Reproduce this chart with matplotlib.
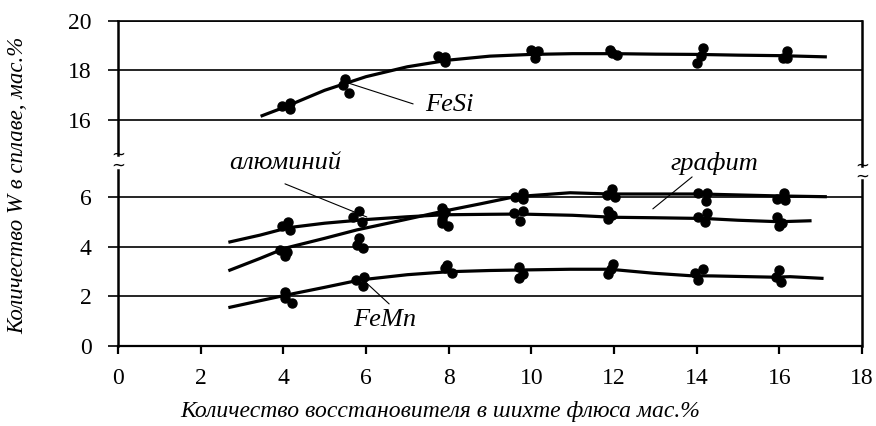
import matplotlib.pyplot as plt

plt.rcParams['font.family'] = ['Liberation Serif', 'DejaVu Serif']

# --- данные ---
# FeSi (верхняя часть)
fesi_x = [3.96, 4.15, 4.15, 5.49, 5.45, 5.6, 7.75, 7.9, 7.9, 10.0, 10.17, 10.1,
          11.9, 12.07, 11.95, 14.15, 14.1, 14.0, 16.18, 16.08, 16.19]
fesi_y = [16.57, 16.7, 16.43, 17.64, 17.41, 17.1, 18.6, 18.55, 18.35, 18.83, 18.8, 18.5,
          18.83, 18.63, 18.7, 18.9, 18.59, 18.32, 18.8, 18.49, 18.49]
fesi_cx = [3.45, 4, 5, 6, 7, 8, 9, 10, 11, 12, 13, 14, 15, 16, 17.15]
fesi_cy = [16.15, 16.5, 17.2, 17.75, 18.15, 18.42, 18.58, 18.65, 18.68, 18.68, 18.66,
           18.65, 18.62, 18.6, 18.55]

# алюминий
al_x = [3.96, 4.12, 4.16, 5.82, 5.68, 5.9, 7.87, 7.83, 7.99, 9.58, 9.79, 9.73,
        11.86, 11.95, 11.86, 14.04, 14.24, 14.2, 15.94, 16.06, 15.98]
al_y = [4.85, 5.02, 4.69, 5.47, 5.2, 5.02, 5.29, 4.96, 4.85, 5.36, 5.47, 5.06,
        5.47, 5.29, 5.12, 5.2, 5.36, 5.02, 5.2, 4.98, 4.85]
al_cx = [2.67, 3.44, 4.12, 5, 6.02, 7, 7.87, 9, 9.73, 11, 11.98, 13, 14.2, 15, 16.0, 16.78]
al_cy = [4.19, 4.48, 4.78, 4.96, 5.11, 5.22, 5.3, 5.32, 5.33, 5.28, 5.2, 5.18, 5.15,
         5.08, 5.02, 5.06]

# графит
gr_x = [3.92, 4.1, 4.04, 5.82, 5.78, 5.92, 7.83, 7.9, 7.83, 9.61, 9.81, 9.81,
        11.95, 11.83, 12.03, 14.04, 14.24, 14.23, 16.11, 15.95, 16.14]
gr_y = [3.88, 3.81, 3.64, 4.35, 4.08, 3.97, 5.56, 5.4, 5.1, 6.03, 6.2, 5.93,
        6.33, 6.1, 6.03, 6.2, 6.2, 5.87, 6.17, 5.93, 5.9]
gr_cx = [2.67, 3.44, 4.04, 5, 5.78, 6.9, 7.83, 8.76, 9.6, 10.94, 11.9, 13.36, 14.08,
         16.02, 17.15]
gr_cy = [3.04, 3.54, 3.95, 4.35, 4.69, 5.09, 5.43, 5.74, 6.03, 6.19, 6.14, 6.14, 6.14,
         6.06, 6.03]

# FeMn
mn_x = [4.04, 4.04, 4.2, 5.76, 5.96, 5.92, 7.97, 8.07, 7.91, 9.71, 9.79, 9.69,
        11.97, 11.92, 11.86, 14.15, 13.96, 14.04, 16.0, 15.92, 16.03]
mn_y = [2.19, 1.93, 1.75, 2.67, 2.78, 2.42, 3.27, 2.96, 3.14, 3.18, 2.91, 2.73,
        3.31, 3.1, 2.91, 3.1, 2.94, 2.67, 3.07, 2.8, 2.6]
mn_cx = [2.67, 3.44, 4.08, 5, 5.86, 7, 7.99, 9, 9.73, 10.94, 11.9, 12.95, 13.84, 14.4,
         15.86, 16.26, 17.07]
mn_cy = [1.55, 1.83, 2.06, 2.37, 2.67, 2.88, 3.0, 3.05, 3.07, 3.1, 3.1, 2.94, 2.84,
         2.83, 2.78, 2.8, 2.73]

xticks = [0, 2, 4, 6, 8, 10, 12, 14, 16, 18]
yticks_top = [16, 18, 20]
yticks_bot = [0, 2, 4, 6]

W, H = 876, 426
fig = plt.figure(figsize=(W / 100, H / 100), dpi=100)

def box(x0, y0, x1, y1):
    # пиксели -> доли фигуры (y сверху)
    return [x0 / W, 1 - y1 / H, (x1 - x0) / W, (y1 - y0) / H]

ax_t = fig.add_axes(box(118, 21, 862, 168))
ax_b = fig.add_axes(box(118, 168, 862, 346))

lw_curve = 2.3
ms = 6.5
for ax in (ax_t, ax_b):
    ax.set_xlim(0, 18)
    ax.grid(axis='y', color='black', linewidth=1.2)
    ax.set_axisbelow(True)
    ax.tick_params(axis='y', direction='out', length=7, width=1.2, pad=12, labelsize=17)
    ax.tick_params(axis='x', direction='out', length=6, width=1.6, pad=10, labelsize=17)
    for s in ('left', 'right'):
        ax.spines[s].set_linewidth(1.8)

# верх
ax_t.set_ylim(14.06, 20)
ax_t.set_yticks(yticks_top)
ax_t.set_xticks([])
ax_t.spines['bottom'].set_visible(False)
ax_t.spines['top'].set_linewidth(1.2)
ax_t.spines['left'].set_bounds(14.6, 20)
ax_t.spines['right'].set_bounds(14.14, 20)
ax_t.plot(fesi_cx, fesi_cy, color='black', lw=lw_curve, solid_capstyle='butt')
ax_t.plot(fesi_x, fesi_y, 'o', color='black', ms=ms)

# низ
ax_b.set_ylim(0, 7.19)
ax_b.set_yticks(yticks_bot)
ax_b.set_xticks(xticks)
ax_b.spines['top'].set_visible(False)
ax_b.spines['bottom'].set_linewidth(1.6)
ax_b.spines['left'].set_bounds(0, 7.1)
ax_b.spines['right'].set_bounds(0, 6.7)
for cx, cy, px, py in [(al_cx, al_cy, al_x, al_y), (gr_cx, gr_cy, gr_x, gr_y),
                       (mn_cx, mn_cy, mn_x, mn_y)]:
    ax_b.plot(cx, cy, color='black', lw=lw_curve, solid_capstyle='butt')
    ax_b.plot(px, py, 'o', color='black', ms=ms)

# подписи кривых
lab = dict(fontsize=19, style='italic')
arr = dict(arrowstyle='-', color='black', lw=0.8, shrinkA=0, shrinkB=0)
ax_t.annotate('', xy=(5.56, 17.5), xytext=(7.14, 16.65), arrowprops=arr)
ax_t.text(7.42, 16.6, 'FeSi', ha='left', va='center', **lab)
ax_b.annotate('', xy=(6.02, 5.21), xytext=(4.04, 6.55), arrowprops=arr)
ax_b.text(4.04, 7.39, 'алюминий', ha='center', va='center', clip_on=False, **lab)
ax_b.annotate('', xy=(12.94, 5.54), xytext=(13.89, 6.83), arrowprops=arr)
ax_b.text(14.42, 7.39, 'графит', ha='center', va='center', clip_on=False, **lab)
ax_b.annotate('', xy=(5.93, 2.67), xytext=(6.56, 1.70), arrowprops=arr)
ax_b.text(6.46, 1.05, 'FeMn', ha='center', va='center', **lab)

# значки разрыва оси
for (px, py) in [(118, 160), (862, 171)]:
    fig.text(px / W, 1 - py / H, '~\n~', ha='center', va='center', fontsize=12,
             linespacing=0.55, family='DejaVu Sans')

fig.text(440 / W, 1 - 412 / H, 'Количество восстановителя в шихте флюса мас.%',
         ha='center', va='center', fontsize=17, style='italic')
fig.text(18 / W, 1 - 185 / H, 'Количество W в сплаве, мас.%', rotation=90,
         ha='center', va='center', fontsize=16.5, style='italic')

fig.savefig('out.png', dpi=100)
